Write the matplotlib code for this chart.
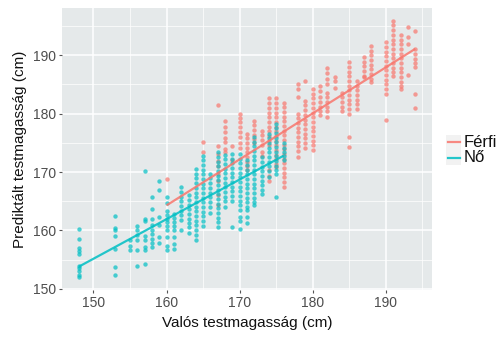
import numpy as np
import matplotlib
matplotlib.use("Agg")
import matplotlib.pyplot as plt
from matplotlib.lines import Line2D
from matplotlib.patches import Rectangle

plt.rcParams['font.family'] = ['Liberation Sans', 'DejaVu Sans']

# Measured height (cm) -> predicted heights (cm), women
female_cols = {
    148: [160.3, 158.6, 157.0, 156.5, 156.0, 154.0, 153.5, 153.0, 152.4, 152.0],
    153: [162.4, 160.5, 160.0, 159.0, 156.8, 153.7, 152.3],
    155: [158.3, 157.3, 156.7],
    156: [160.7, 160.1, 159.3, 158.4, 156.6, 154.0],
    157: [170.1, 162.0, 161.6, 159.1, 158.3, 157.1, 156.7, 154.3],
    158: [165.7, 163.7, 162.0, 161.0, 160.0, 159.4, 158.6, 157.8, 157.1],
    159: [168.5, 167.0, 162.3, 161.0, 158.8, 157.8],
    160: [165.7, 164.7, 163.4, 162.7, 162.0, 161.4, 160.7, 160.0, 158.9, 157.4, 156.6],
    161: [162.9, 162.2, 161.4, 160.7, 160.0, 158.9, 157.7, 156.9],
    162: [167.4, 166.6, 165.8, 165.0, 164.2, 163.4, 162.6, 161.8, 160.0],
    163: [166.0, 165.2, 164.4, 163.6, 162.8, 162.0, 161.2, 160.6, 159.5],
    164: [170.5, 169.7, 168.9, 168.1, 167.3, 166.5, 165.7, 164.9, 164.1, 163.3,
          162.5, 161.7, 160.9, 160.1, 159.3, 158.3],
    165: [172.8, 172.0, 171.2, 170.4, 169.6, 168.8, 168.0, 167.2, 166.4, 165.6,
          164.8, 164.0, 163.2, 162.4, 161.6, 160.8],
    166: [169.7, 168.9, 168.1, 167.3, 166.5, 165.7, 164.9, 164.1, 163.0],
    167: [173.4, 172.6, 171.8, 171.0, 170.2, 169.4, 168.6, 167.8, 167.0, 166.2,
          165.4, 164.6, 163.8, 163.0, 162.2, 161.4, 160.6],
    168: [173.0, 172.2, 171.4, 170.6, 169.8, 169.0, 168.2, 167.4, 166.6, 165.8,
          165.0, 164.0],
    169: [173.1, 172.3, 171.5, 170.7, 169.9, 169.1, 168.3, 167.5, 166.7, 165.9,
          165.1, 160.6],
    170: [173.1, 172.3, 171.5, 170.7, 169.9, 169.1, 168.3, 167.5, 166.7, 165.9,
          165.1, 164.3, 163.5, 162.3, 161.7, 160.2],
    171: [172.0, 171.2, 170.4, 169.6, 168.8, 168.0, 167.2, 166.4, 165.6, 164.8,
          164.0, 163.5, 162.3, 161.2],
    172: [176.0, 175.2, 174.4, 173.6, 172.8, 172.0, 171.2, 170.4, 169.6, 168.8,
          168.0, 167.2, 166.4, 165.6, 164.8, 164.3],
    173: [172.5, 171.7, 170.9, 170.1, 169.3, 168.5, 167.7, 166.9, 166.3],
    174: [176.6, 175.8, 175.0, 174.2, 173.4, 172.6, 171.8, 171.0, 170.2, 169.1],
    175: [178.3, 177.5, 176.7, 175.9, 175.1, 174.3, 173.5, 172.7, 171.9, 171.1,
          170.3, 169.7, 165.7],
    176: [174.9, 174.1, 173.4, 172.7, 172.0],
}

# Measured height (cm) -> predicted heights (cm), men
male_cols = {
    160: [168.8],
    165: [175.1, 173.4],
    167: [181.4, 174.5, 173.1, 171.9, 171.1, 169.7, 168.5, 166.0, 164.3],
    168: [178.8, 177.8, 176.8, 175.9, 175.1, 174.0, 173.4],
    169: [174.5, 172.0],
    170: [180.0, 179.2, 178.5, 177.7, 176.8, 176.0, 175.0, 174.2],
    171: [176.6, 175.8, 175.0, 174.2, 173.4, 172.6, 171.8, 171.0, 170.3],
    172: [178.8, 178.0, 177.2, 176.4, 175.6, 174.9],
    173: [177.1, 176.3, 175.5, 174.7, 173.5, 172.8],
    174: [182.6, 181.8, 181.0, 180.2, 179.4, 178.6, 177.8, 177.0, 176.2, 175.4,
          174.6, 170.3, 169.4, 168.5],
    175: [182.6, 181.8, 181.0, 180.2, 179.4, 178.6, 177.8, 177.0, 176.2, 175.4,
          174.6, 173.8, 173.0, 172.2, 171.4, 170.8],
    176: [181.9, 181.1, 180.3, 179.5, 178.7, 177.9, 177.1, 176.3, 175.5, 174.7,
          173.9, 173.1, 172.3, 171.5, 170.7, 169.9, 169.1, 168.3, 167.4],
    178: [185.1, 184.2, 182.8, 180.0, 179.2, 178.4, 177.6, 176.8, 176.0, 175.2,
          174.4, 173.6, 172.5],
    179: [185.6, 182.2, 181.4, 180.6, 179.8, 179.0, 178.2, 177.4, 176.6, 175.8,
          175.0, 174.2],
    180: [184.2, 183.4, 182.6, 181.8, 181.0, 180.2, 179.4, 178.6, 177.8, 177.0,
          176.2, 175.4, 174.6, 173.7],
    181: [184.8, 183.9, 182.8, 182.0, 181.2, 180.4, 179.8],
    182: [187.9, 187.0, 186.0, 185.1, 183.5, 182.8, 182.0, 181.2, 180.4, 179.5],
    183: [186.2, 185.6, 184.4],
    184: [183.6, 182.8, 182.0, 181.2, 180.5],
    185: [188.8, 188.0, 187.2, 186.4, 185.6, 184.8, 184.0, 183.2, 182.4, 181.6,
          180.8, 180.0, 176.0, 174.3],
    186: [185.6, 184.8, 184.0, 183.2, 182.4, 181.6, 180.8],
    187: [189.7, 188.9, 188.1, 187.3, 186.5, 186.2],
    188: [191.6, 190.8, 190.0, 189.2, 188.4, 187.6, 186.8, 186.0, 185.4],
    190: [192.2, 191.4, 190.6, 189.8, 189.0, 188.2, 187.4, 186.6, 185.8, 185.0,
          184.2, 183.4, 179.0],
    191: [195.9, 195.1, 194.3, 193.5, 192.7, 191.9, 191.1, 190.3, 189.5, 188.7,
          187.9, 187.1, 186.5],
    192: [193.5, 192.7, 191.9, 191.1, 190.3, 189.5, 188.7, 187.9, 187.1, 186.3,
          185.5, 184.7, 184.2],
    193: [194.8, 193.1, 192.0, 186.7],
    194: [194.2, 191.1, 190.2, 189.4, 188.6, 188.0, 183.4, 180.9],
}

# Linear-fit trend lines: predicted height at the smallest and largest measured height
male_fit = [164.3, 191.1]
female_fit = [153.8, 172.8]

group_labels = ['Férfi', 'Nő']
group_colors = ['#F8766D', '#00BFC4']


def flatten(cols):
    xs, ys = [], []
    for h, preds in cols.items():
        xs.extend([h] * len(preds))
        ys.extend(preds)
    return np.array(xs, float), np.array(ys, float)


male_x, male_y = flatten(male_cols)
female_x, female_y = flatten(female_cols)

fig = plt.figure(figsize=(5.0, 3.41), dpi=100)
ax = fig.add_axes([62 / 500, 1 - 290 / 341, 370 / 500, 282 / 341])
ax.set_facecolor('#E5E9EA')

groups = [(male_x, male_y, male_fit), (female_x, female_y, female_fit)]
for (x, y, _), col in zip(groups, group_colors):
    ax.scatter(x, y, s=10, color=col, alpha=0.7, linewidths=0, zorder=3)

for (x, _, fit), col in zip(groups, group_colors):
    ax.plot([x.min(), x.max()], fit, color=col, lw=1.6, alpha=0.85, zorder=4,
            solid_capstyle='butt')

# ggplot-style 5% padding around the data range
all_x = np.concatenate([male_x, female_x])
all_y = np.concatenate([male_y, female_y])
px = 0.05 * (all_x.max() - all_x.min())
py = 0.05 * (all_y.max() - all_y.min())
ax.set_xlim(all_x.min() - px, all_x.max() + px)
ax.set_ylim(all_y.min() - py, all_y.max() + py)

ax.set_xticks([150, 160, 170, 180, 190])
ax.set_yticks([150, 160, 170, 180, 190])
ax.set_xticks([155, 165, 175, 185, 195], minor=True)
ax.set_yticks([155, 165, 175, 185, 195], minor=True)
ax.grid(which='major', color='white', lw=1.1, zorder=0)
ax.grid(which='minor', color='white', lw=0.5, zorder=0)
ax.set_axisbelow(True)
for s in ax.spines.values():
    s.set_visible(False)
ax.tick_params(which='major', length=2.5, width=0.8, color='#555555',
               labelsize=10, labelcolor='#4D4D4D', pad=2)
ax.tick_params(which='minor', length=0)

ax.set_xlabel('Valós testmagasság (cm)', fontsize=11, color='#111111', labelpad=4)
ax.set_ylabel('Prediktált testmagasság (cm)', fontsize=11, color='#111111', labelpad=4)

# legend keys drawn in figure pixel coordinates
W, H = 500, 341
for i, (lab, col) in enumerate(zip(group_labels, group_colors)):
    yc = 142 + i * 15.5
    fig.patches.append(Rectangle((446 / W, 1 - (yc + 7.5) / H), 15 / W, 15 / H,
                                 transform=fig.transFigure, facecolor='#F2F2F2',
                                 edgecolor='none'))
    fig.lines.append(Line2D([447.5 / W, 459.5 / W], [1 - yc / H, 1 - yc / H],
                            transform=fig.transFigure, color=col, lw=1.6, alpha=0.85))
    fig.text(464 / W, 1 - yc / H, lab, fontsize=12, color='#111111',
             va='center', ha='left')

fig.savefig('out.png', dpi=100)
